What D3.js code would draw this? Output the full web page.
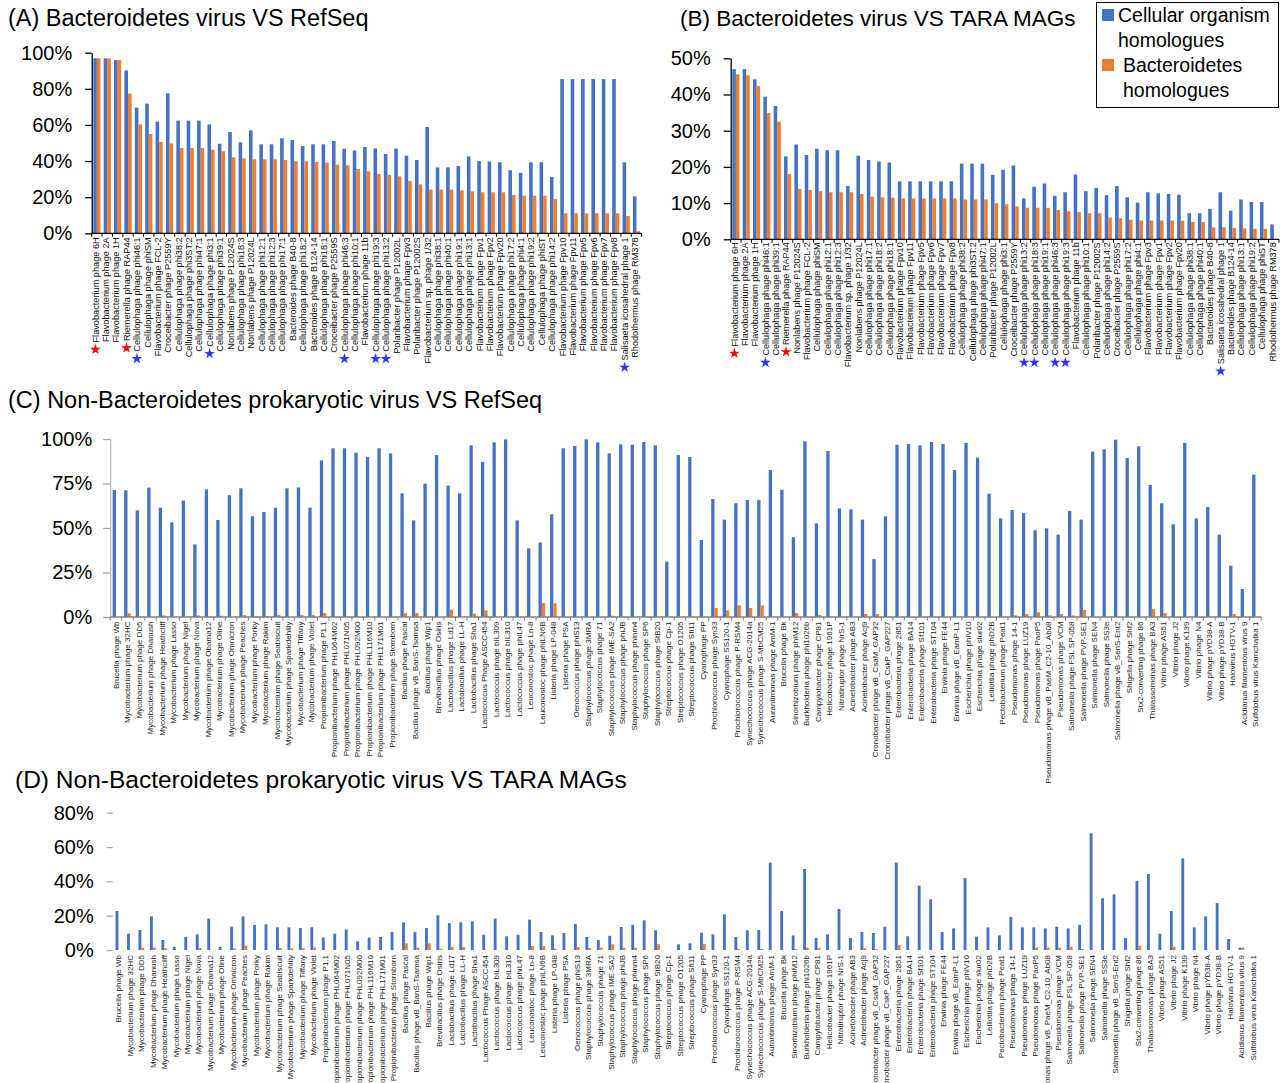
<!DOCTYPE html>
<html>
<head>
<meta charset="utf-8">
<script src="https://cdn.jsdelivr.net/npm/d3@7"></script>
<style>
  html, body { margin: 0; padding: 0; background: #fff; }
  svg { display: block; font-family: "Liberation Sans", Arial, Helvetica, sans-serif; }
</style>
</head>
<body>
<svg id="chart" width="1286" height="1083"></svg>
<script>
// ---------- (A) Bacteroidetes virus VS RefSeq ----------
const catsA = ["Flavobacterium phage 6H","Flavobacterium phage 2A","Flavobacterium phage 1H","Riemerella phage RAP44","Cellulophaga phage phi46:1","Cellulophaga phage phiSM","Flavobacterium phage FCL-2","Croceibacter phage P2559Y","Cellulophaga phage phi38:2","Cellulophaga phage phi3ST:2","Cellulophaga phage phi47:1","Cellulophaga phage phi3:1","Cellulophaga phage phi39:1","Nonlabens phage P12024S","Cellulophaga phage phi18:3","Nonlabens phage P12024L","Cellulophaga phage phi12:1","Cellulophaga phage phi12:3","Cellulophaga phage phi17:1","Bacteroides phage B40-8","Cellulophaga phage phi18:2","Bacteroides phage B124-14","Cellulophaga phage phi18:1","Croceibacter phage P2559S","Cellulophaga phage phi46:3","Cellulophaga phage phi10:1","Flavobacterium phage 11b","Cellulophaga phage phi19:3","Cellulophaga phage phi13:2","Polaribacter phage P12002L","Flavobacterium phage Fpv3","Polaribacter phage P12002S","Flavobacterium sp. phage 1/32","Cellulophaga phage phi38:1","Cellulophaga phage phi40:1","Cellulophaga phage phi19:1","Cellulophaga phage phi13:1","Flavobacterium phage Fpv1","Flavobacterium phage Fpv2","Flavobacterium phage Fpv20","Cellulophaga phage phi17:2","Cellulophaga phage phi4:1","Cellulophaga phage phi19:2","Cellulophaga phage phiST","Cellulophaga phage phi14:2","Flavobacterium phage Fpv10","Flavobacterium phage Fpv11","Flavobacterium phage Fpv5","Flavobacterium phage Fpv6","Flavobacterium phage Fpv7","Flavobacterium phage Fpv8","Salisaeta icosahedral phage 1","Rhodothermus phage RM378"];
const cellA = [96.9,96.9,95.9,90.2,69.6,71.8,61.8,77.5,62.4,62.4, 62.4,60.3,49.6,56.1,50.4,57.0,49.3,49.3,52.6,51.7, 48.3,49.3,49.3,51.1,46.9,45.9,47.8,47.0,43.9,47.0, 43.0,40.6,58.9,36.5,36.5,37.3,42.6,40.0,39.7,39.3, 34.9,33.4,39.3,39.3,31.2,85.4,85.4,85.4,85.4,85.4, 85.4,39.3,20.5];
const bactA = [96.9,96.9,95.9,77.3,60.3,55.0,50.6,49.8,47.2,47.2, 47.2,46.3,45.4,42.1,41.5,41.0,41.0,41.0,40.6,39.9, 39.9,39.5,39.1,38.0,37.6,35.6,34.3,32.8,32.3,31.5, 29.0,27.1,24.2,24.2,24.2,23.8,23.2,22.7,22.7,22.7, 21.2,20.8,20.8,20.8,19.0,11.1,11.1,11.1,11.1,11.1, 11.1,9.6,1.1];
const ticksA = [0, 20, 40, 60, 80, 100];
const redStarsA = ["Flavobacterium phage 6H","Riemerella phage RAP44"];
const blueStarsA = ["Cellulophaga phage phi46:1","Cellulophaga phage phi3:1","Cellulophaga phage phi46:3","Cellulophaga phage phi19:3","Cellulophaga phage phi13:2","Salisaeta icosahedral phage 1"];

// ---------- (B) Bacteroidetes virus VS TARA MAGs ----------
const catsB = ["Flavobacterium phage 6H","Flavobacterium phage 2A","Flavobacterium phage 1H","Cellulophaga phage phi46:1","Cellulophaga phage phi39:1","Riemerella phage RAP44","Nonlabens phage P12024S","Flavobacterium phage FCL-2","Cellulophaga phage phiSM","Cellulophaga phage phi12:1","Cellulophaga phage phi12:3","Flavobacterium sp. phage 1/32","Nonlabens phage P12024L","Cellulophaga phage phi17:1","Cellulophaga phage phi18:2","Cellulophaga phage phi18:1","Flavobacterium phage Fpv10","Flavobacterium phage Fpv11","Flavobacterium phage Fpv5","Flavobacterium phage Fpv6","Flavobacterium phage Fpv7","Flavobacterium phage Fpv8","Cellulophaga phage phi38:2","Cellulophaga phage phi3ST:2","Cellulophaga phage phi47:1","Polaribacter phage P12002L","Cellulophaga phage phi3:1","Croceibacter phage P2559Y","Cellulophaga phage phi13:2","Cellulophaga phage phi18:3","Cellulophaga phage phi19:1","Cellulophaga phage phi46:3","Cellulophaga phage phi19:3","Flavobacterium phage 11b","Cellulophaga phage phi10:1","Polaribacter phage P12002S","Cellulophaga phage phi14:2","Croceibacter phage P2559S","Cellulophaga phage phi17:2","Cellulophaga phage phi4:1","Flavobacterium phage Fpv3","Flavobacterium phage Fpv1","Flavobacterium phage Fpv2","Flavobacterium phage Fpv20","Cellulophaga phage phi38:1","Cellulophaga phage phi40:1","Bacteroides phage B40-8","Salisaeta icosahedral phage 1","Bacteroides phage B124-14","Cellulophaga phage phi13:1","Cellulophaga phage phi19:2","Cellulophaga phage phiST","Rhodothermus phage RM378"];
const cellB = [47.0,47.0,44.2,39.4,36.8,22.9,26.2,23.3,25.0,24.6, 24.6,14.7,23.1,21.9,21.5,21.2,16.0,16.0,16.0,16.0, 16.0,16.0,20.9,20.9,20.9,17.8,19.2,20.4,11.3,14.5, 15.4,12.0,13.0,17.9,13.3,14.2,12.2,14.7,11.6,10.1, 13.0,12.7,12.5,12.3,7.2,7.2,8.4,13.0,7.9,11.0, 10.3,10.3,4.1];
const bactB = [45.6,45.3,42.3,34.9,32.5,18.0,13.9,13.6,13.3,13.0, 13.0,13.0,12.5,11.8,11.6,11.5,11.3,11.3,11.3,11.3, 11.3,11.3,11.0,11.0,11.0,10.0,9.7,9.1,8.7,8.7, 8.7,8.1,7.7,7.5,7.2,7.2,6.0,5.8,5.4,5.2, 5.2,5.2,5.2,5.1,4.8,4.8,3.3,3.3,3.1,3.0, 2.9,2.9,0];
const ticksB = [0, 10, 20, 30, 40, 50];
const redStarsB = ["Flavobacterium phage 6H","Riemerella phage RAP44"];
const blueStarsB = ["Cellulophaga phage phi46:1","Cellulophaga phage phi13:2","Cellulophaga phage phi18:3","Cellulophaga phage phi46:3","Cellulophaga phage phi19:3","Salisaeta icosahedral phage 1"];

// ---------- (C) / (D) Non-Bacteroidetes prokaryotic viruses ----------
const catsCD = ["Brucella phage Wb","Mycobacterium phage 32HC","Mycobacterium phage DD5","Mycobacterium phage Dhanush","Mycobacterium phage Heathcliff","Mycobacterium phage Lasso","Mycobacterium phage Nigel","Mycobacterium phage Nova","Mycobacterium phage Obama12","Mycobacterium phage Oline","Mycobacterium phage Omnicron","Mycobacterium phage Peaches","Mycobacterium phage Porky","Mycobacterium phage Rakim","Mycobacterium phage Seabiscuit","Mycobacterium phage Sparkdehlily","Mycobacterium phage Tiffany","Mycobacterium phage Violet","Propionibacterium phage P1.1","Propionibacterium phage PHL064M02","Propionibacterium phage PHL071N05","Propionibacterium phage PHL092M00","Propionibacterium phage PHL116M10","Propionibacterium phage PHL171M01","Propionibacterium phage Stornborn","Bacillus phage Pascal","Bacillus phage vB_BanS-Tsamsa","Bacillus phage Wip1","Brevibacillus phage Osiris","Lactobacillus phage Ld17","Lactobacillus phage LL-H","Lactobacillus phage Sha1","Lactococcus Phage ASCC454","Lactococcus phage bIL309","Lactococcus phage bIL310","Lactococcus phage phiL47","Leuconostoc phage Ln-8","Leuconostoc phage phiLN6B","Listeria phage LP-048","Listeria phage PSA","Oenococcus phage phiS13","Staphylococcus phage 3MRA","Staphylococcus phage 71","Staphylococcus phage IME-SA2","Staphylococcus phage phiJB","Staphylococcus phage phinm4","Staphylococcus phage SP6","Staphylococcus phage StB20","Streptococcus phage Cp-1","Streptococcus phage O1205","Streptococcus phage Sfi11","Cyanophage PP","Prochlorococcus phage Syn33","Cyanophage SS120-1","Prochlorococcus phage P-RSM4","Synechococcus phage ACG-2014a","Synechococcus phage S-MbCM25","Aurantimonas phage AmM-1","Brucella phage Bk","Sinorhizobium phage phiM12","Burkholderia phage phi1026b","Campylobacter phage CP81","Helicobacter phage 1961P","Nitratiruptor phage NrS-1","Acinetobacter phage AB3","Acinetobacter phage Acj9","Cronobacter phage vB_CsaM_GAP32","Cronobacter phage vB_CskP_GAP227","Enterobacteria phage 2851","Enterobacteria phage BA14","Enterobacteria phage Sf101","Enterobacteria phage ST104","Erwinia phage FE44","Erwinia phage vB_EamP-L1","Escherichia phage phiV10","Escherichia phage slur02","Lelliottia phage phD2B","Pectobacterium phage Peat1","Pseudomonas phage 14-1","Pseudomonas phage LUZ19","Pseudomonas phage PaoP5","Pseudomonas phage vB_PaeM_C2-10_Ab08","Pseudomonas phage VCM","Salmonella phage FSL SP-058","Salmonella phage PVP-SE1","Salmonella phage SEN4","Salmonella phage SS3e","Salmonella phage vB_SenS-Ent2","Shigella phage Shf2","Stx2-converting phage 86","Thalassomonas phage BA3","Vibrio phage AS51","Vibrio phage J2","Vibrio phage K139","Vibrio phage N4","Vibrio phage pYD38-A","Vibrio phage pYD38-B","Halovirus HGTV-1","Acidianus filamentous virus 9","Sulfolobus virus Kamchatka 1"];

const cellC = [71.3,71.2,59.9,72.7,61.4,53.2,65.4,40.8,71.7,54.5, 68.4,72.3,56.6,59.0,61.4,72.3,72.8,61.4,88.0,94.8, 94.8,92.3,89.9,94.8,91.9,69.5,54.3,74.9,91.0,73.8, 69.5,96.4,87.1,98.1,99.8,54.3,38.6,41.9,57.7,94.8, 96.1,99.8,98.1,91.9,97.0,96.8,98.3,96.4,31.1,91.0, 89.9,43.3,66.3,54.7,63.9,65.7,65.7,82.6,71.5,44.8, 98.7,52.6,93.3,61.0,60.5,54.7,32.6,56.6,96.8,97.2, 96.4,98.3,97.2,82.6,97.8,89.5,69.3,55.4,60.1,58.4, 48.7,49.8,46.3,59.6,54.7,92.9,94.2,99.6,89.3,95.9, 74.2,63.9,52.1,97.8,55.4,61.8,46.3,28.8,15.7,80.0];
const bactC = [0,2.1,0,0,0.9,0,0,0.9,0,0.7, 0,1.1,0.6,0.6,1.1,0,1.1,1.1,2.2,0, 0,0,0,0,0,2.2,2.2,0,0,4.1, 0,1.9,3.7,0,0,0,0,7.9,7.7,0, 0,0,0,0.7,0,0,0,0,0,0, 0,0,5.1,3.7,6.6,5.1,6.6,0,0,2.2, 0,1.1,0,0,0,1.7,1.7,0,0,0, 0,0,0,0,0,0,0,0,0.9,1.7, 2.6,0.9,1.7,0.9,3.9,0,0,0,0,0, 4.5,2.2,0,0,0,0,0,1.7,0,0];
const ticksC = [0, 25, 50, 75, 100];

const cellD = [22.7,9.5,11.7,19.6,5.8,1.9,7.6,9.1,18.3,1.9, 13.6,19.6,14.6,15.0,13.2,13.2,12.8,13.2,7.2,9.5, 12.0,5.0,7.2,7.6,10.5,16.1,10.5,12.8,20.2,15.7, 16.1,16.7,8.9,18.3,8.0,8.9,17.7,10.5,8.5,9.9, 15.1,7.6,5.8,8.3,13.4,14.6,17.3,11.5,0,3.3, 3.9,10.1,9.1,20.8,7.6,11.5,11.7,50.9,22.7,8.5, 47.2,7.0,9.1,23.9,7.0,10.5,9.9,13.6,50.9,8.0, 37.5,29.5,10.5,12.6,41.9,7.8,13.2,8.5,19.2,13.2, 13.2,12.6,13.6,12.6,14.6,68.0,30.1,32.4,7.0,40.2, 44.3,9.5,22.7,53.4,13.2,19.6,27.4,6.4,1.4,0];
const bactD = [0,0,1.2,1.4,1.0,0,0,1.2,0,0, 1.0,2.5,0,0,1.2,1.0,1.0,1.4,0,0, 0,0,0,0,0,3.9,1.4,3.9,0.8,1.9, 1.7,0,0,0,0,0,2.3,2.3,0.8,0, 1.7,1.2,1.4,3.3,1.4,1.4,0,3.3,0,0, 0,3.5,0,0,0.6,0,0.6,0,0,0.6, 1.4,1.2,0,0,0,1.0,0.6,0,2.9,0, 0,0,0,0,0,0,0,0,0,0, 1.4,1.4,1.4,1.9,0.6,0,0,0,0,2.5, 0,0,1.9,0,0,0,0,0,1.4,0];
const ticksD = [0, 20, 40, 60, 80];

// ---------- drawing ----------
const BLUE = "#4472C4", ORANGE = "#ED7D31";
const svg = d3.select("#chart");
svg.append("rect").attr("width", 1286).attr("height", 1083).attr("fill", "#fff");

function drawPanel(o) {
  const g = svg.append("g");
  const x = d3.scaleBand().domain(o.cats).range([o.left, o.right])
    .paddingInner(o.pad).paddingOuter(o.pad / 2);
  const xs = d3.scaleBand().domain(["cell", "bact"]).range([0, x.bandwidth()]);
  const y = d3.scaleLinear().domain([0, o.max]).range([o.bottom, o.top]);
  const rows = o.cats.map((c, i) => ({ c, cell: o.cell[i], bact: o.bact[i] }));

  // bars
  g.append("g").selectAll("rect").data(rows.filter(d => d.cell > 0)).join("rect")
    .attr("x", d => x(d.c) + xs("cell")).attr("width", xs.bandwidth())
    .attr("y", d => y(d.cell)).attr("height", d => y(0) - y(d.cell))
    .attr("fill", BLUE);
  g.append("g").selectAll("rect").data(rows.filter(d => d.bact > 0)).join("rect")
    .attr("x", d => x(d.c) + xs("bact")).attr("width", xs.bandwidth())
    .attr("y", d => y(d.bact)).attr("height", d => y(0) - y(d.bact))
    .attr("fill", ORANGE);

  // value axis
  const ya = g.append("g").attr("transform", `translate(${o.left},0)`)
    .call(d3.axisLeft(y).tickValues(o.ticks).tickFormat(d => d + "%")
      .tickSize(o.tickLen).tickSizeOuter(0).tickPadding(o.tickPad));
  ya.selectAll("text").attr("font-size", o.tickFont).attr("fill", "#000")
    .attr("font-family", '"Liberation Sans", Arial, sans-serif');
  ya.selectAll(".tick line").attr("stroke", o.yTickColor).attr("stroke-width", 1.3);
  ya.select(".domain").attr("stroke", o.yLineColor).attr("stroke-width", 1.3);

  // category axis line + boundary ticks
  if (o.xLineColor !== "none") {
    g.append("line").attr("x1", o.left).attr("x2", o.right)
      .attr("y1", y(0)).attr("y2", y(0))
      .attr("stroke", o.xLineColor).attr("stroke-width", 1.3);
    g.append("g").selectAll("line").data(d3.range(o.cats.length + 1)).join("line")
      .attr("x1", i => o.left + i * x.step()).attr("x2", i => o.left + i * x.step())
      .attr("y1", y(0)).attr("y2", y(0) + 3.5)
      .attr("stroke", o.xLineColor).attr("stroke-width", 1);
  }

  // category labels, rotated
  const labels = g.append("g").selectAll("text").data(o.cats).join("text")
    .attr("transform", d => `translate(${x(d) + x.bandwidth() / 2 + o.labelShift},${y(0) + o.labelGap}) rotate(-90)`)
    .attr("text-anchor", "end").attr("dy", "0.35em")
    .attr("font-size", o.labelFont).attr("fill", o.labelColor)
    .text(d => d);

  // star markers under highlighted labels
  const labelEnd = {};
  labels.each(function (d) { labelEnd[d] = y(0) + o.labelGap + this.getComputedTextLength(); });
  const star = d3.symbol().type(d3.symbolStar).size(36);
  const stars = [];
  (o.redStars || []).forEach(c => stars.push({ c, color: "#FF0000" }));
  (o.blueStars || []).forEach(c => stars.push({ c, color: "#3333FF" }));
  g.append("g").selectAll("path").data(stars).join("path")
    .attr("d", star)
    .attr("transform", d => `translate(${x(d.c) + x.bandwidth() / 2 - 1.5},${labelEnd[d.c] + 7})`)
    .attr("fill", d => d.color);

  // panel title
  g.append("text").attr("x", o.titleX).attr("y", o.titleY)
    .attr("font-size", o.titleFont).attr("fill", "#000").text(o.title);
}

drawPanel({
  title: "(A) Bacteroidetes virus VS RefSeq", titleX: 8, titleY: 26, titleFont: 23.5,
  cats: catsA, cell: cellA, bact: bactA, ticks: ticksA, max: 100,
  left: 91.7, right: 641.7, top: 52.7, bottom: 233.3, pad: 0.31,
  tickLen: 6.5, tickPad: 13, tickFont: 20, yTickColor: "#000", yLineColor: "#000", xLineColor: "#000",
  labelFont: 9.2, labelGap: 4, labelShift: -1.5, labelColor: "#111",
  redStars: redStarsA, blueStars: blueStarsA
});

drawPanel({
  title: "(B) Bacteroidetes virus VS TARA MAGs", titleX: 680, titleY: 26, titleFont: 22.5,
  cats: catsB, cell: cellB, bact: bactB, ticks: ticksB, max: 50,
  left: 730.7, right: 1279, top: 58.3, bottom: 239.3, pad: 0.31,
  tickLen: 7, tickPad: 13, tickFont: 20, yTickColor: "#000", yLineColor: "#000", xLineColor: "#000",
  labelFont: 9.1, labelGap: 3, labelShift: -1.5, labelColor: "#111",
  redStars: redStarsB, blueStars: blueStarsB
});

drawPanel({
  title: "(C) Non-Bacteroidetes prokaryotic virus VS RefSeq", titleX: 8, titleY: 408, titleFont: 23.5,
  cats: catsCD, cell: cellC, bact: bactC, ticks: ticksC, max: 100,
  left: 110.2, right: 1261.2, top: 439, bottom: 617, pad: 0.43,
  tickLen: 7, tickPad: 11, tickFont: 20, yTickColor: "#a6a6a6", yLineColor: "#bfbfbf", xLineColor: "#7f7f7f",
  labelFont: 8, labelGap: 4.5, labelShift: 0, labelColor: "#222"
});

drawPanel({
  title: "(D) Non-Bacteroidetes prokaryotic virus VS TARA MAGs", titleX: 15, titleY: 788, titleFont: 24.5,
  cats: catsCD, cell: cellD, bact: bactD, ticks: ticksD, max: 80,
  left: 112.7, right: 1258.7, top: 812.7, bottom: 950, pad: 0.5,
  tickLen: 6, tickPad: 13, tickFont: 20, yTickColor: "#a6a6a6", yLineColor: "none", xLineColor: "none",
  labelFont: 8, labelGap: 5, labelShift: 0, labelColor: "#222"
});

// ---------- legend ----------
const leg = svg.append("g");
leg.append("rect").attr("x", 1096.5).attr("y", 2.5).attr("width", 182).attr("height", 105)
  .attr("fill", "#fff").attr("stroke", "#000").attr("stroke-width", 1);
const legItems = [
  { lines: ["Cellular organism", "homologues"], color: BLUE, y: 9, tx: 1118 },
  { lines: ["Bacteroidetes", "homologues"], color: ORANGE, y: 59, tx: 1123 }
];
legItems.forEach(it => {
  leg.append("rect").attr("x", 1102).attr("y", it.y).attr("width", 12).attr("height", 12).attr("fill", it.color);
  it.lines.forEach((t, j) => {
    leg.append("text").attr("x", it.tx).attr("y", it.y + 13 + j * 24.5)
      .attr("font-size", 19.5).attr("fill", "#000").text(t);
  });
});
</script>
</body>
</html>
